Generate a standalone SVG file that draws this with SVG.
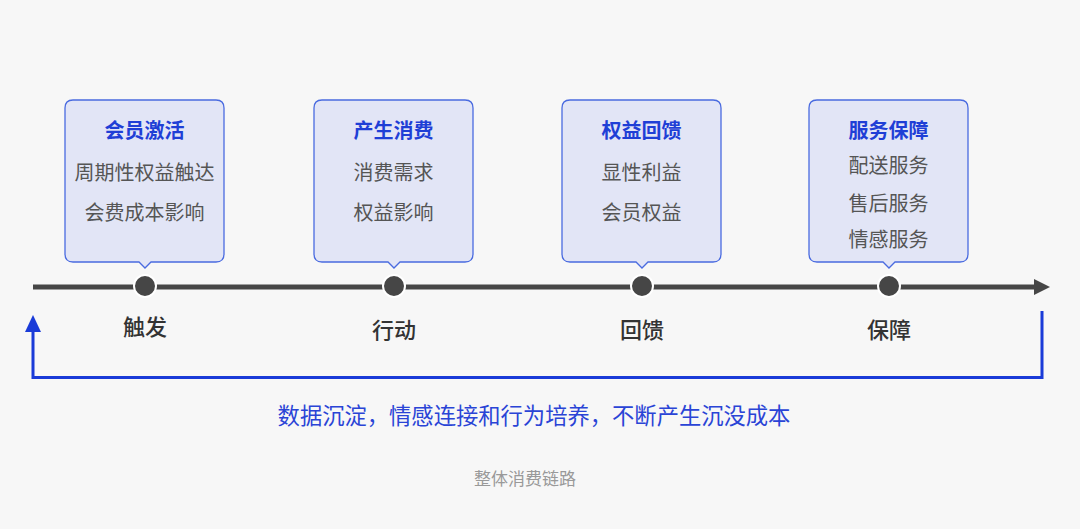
<svg xmlns="http://www.w3.org/2000/svg" width="1080" height="529" viewBox="0 0 1080 529">
<style>
text{font-family:"Noto Sans CJK SC","Noto Sans",sans-serif;text-anchor:middle}
.box{fill:#e2e5f6;stroke:#4a6be0;stroke-width:1.3}
.t{font-size:20px;font-weight:700;fill:#1f3fd6}
.b{font-size:20px;fill:#555}
.lab{font-size:22px;font-weight:500;fill:#333}
.dot{fill:#464646;stroke:#fff;stroke-width:2}
</style>
<rect width="1080" height="529" fill="#f7f7f7"/>
<g id="connectors">
<line x1="33" y1="287" x2="1034" y2="287" stroke="#464646" stroke-width="5"/>
<path d="M1034,279 L1050,287 L1034,295z" fill="#464646"/>
<path d="M1042,311 V377.5 H33 V330" fill="none" stroke="#1a3bd8" stroke-width="3"/>
<path d="M25,332 L33,315 L41,332z" fill="#1a3bd8"/>
</g>
<g id="node1">
<path class="box" d="M73,100 H216 Q224,100 224,108 V254 Q224,262 216,262 H151 L145,268 L139,262 H73 Q65,262 65,254 V108 Q65,100 73,100z"/>
<text class="t" x="144.5" y="138">会员激活</text>
<text class="b" x="144.5" y="180">周期性权益触达</text>
<text class="b" x="144.5" y="220">会费成本影响</text>
<circle class="dot" cx="145" cy="286" r="11"/>
<text class="lab" x="145" y="335">触发</text>
</g>
<g id="node2">
<path class="box" d="M322,100 H465 Q473,100 473,108 V254 Q473,262 465,262 H400 L394,268 L388,262 H322 Q314,262 314,254 V108 Q314,100 322,100z"/>
<text class="t" x="393.5" y="138">产生消费</text>
<text class="b" x="393.5" y="180">消费需求</text>
<text class="b" x="393.5" y="220">权益影响</text>
<circle class="dot" cx="394" cy="286" r="11"/>
<text class="lab" x="394" y="338">行动</text>
</g>
<g id="node3">
<path class="box" d="M570,100 H713 Q721,100 721,108 V254 Q721,262 713,262 H648 L642,268 L636,262 H570 Q562,262 562,254 V108 Q562,100 570,100z"/>
<text class="t" x="641.5" y="138">权益回馈</text>
<text class="b" x="641.5" y="180">显性利益</text>
<text class="b" x="641.5" y="220">会员权益</text>
<circle class="dot" cx="642" cy="286" r="11"/>
<text class="lab" x="642" y="338">回馈</text>
</g>
<g id="node4">
<path class="box" d="M817,100 H960 Q968,100 968,108 V254 Q968,262 960,262 H895 L889,268 L883,262 H817 Q809,262 809,254 V108 Q809,100 817,100z"/>
<text class="t" x="888.5" y="138">服务保障</text>
<text class="b" x="888.5" y="173">配送服务</text>
<text class="b" x="888.5" y="211">售后服务</text>
<text class="b" x="888.5" y="247">情感服务</text>
<circle class="dot" cx="889" cy="286" r="11"/>
<text class="lab" x="889" y="338">保障</text>
</g>
<text x="534" y="424" style="font-size:22.3px;fill:#2a44d6">数据沉淀，情感连接和行为培养，不断产生沉没成本</text>
<text x="525" y="485" style="font-size:17px;fill:#999">整体消费链路</text>
</svg>
